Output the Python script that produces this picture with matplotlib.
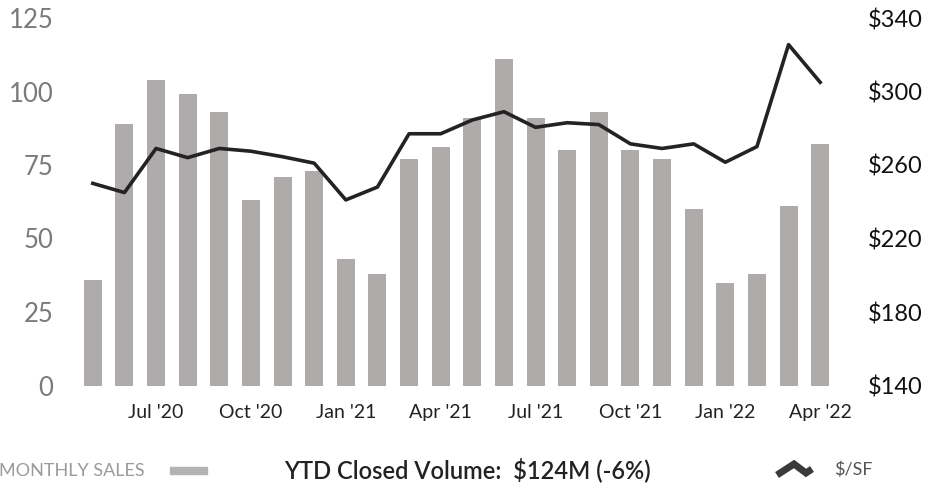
import matplotlib.pyplot as plt
from matplotlib.patches import Rectangle
from matplotlib.lines import Line2D

plt.rcParams['font.family'] = ['Lato', 'DejaVu Sans']

# monthly data, May 2020 .. Apr 2022
months = ['May 20', 'Jun 20', "Jul '20", 'Aug 20', 'Sep 20', "Oct '20", 'Nov 20', 'Dec 20',
          "Jan '21", 'Feb 21', 'Mar 21', "Apr '21", 'May 21', 'Jun 21', "Jul '21", 'Aug 21',
          'Sep 21', "Oct '21", 'Nov 21', 'Dec 21', "Jan '22", 'Feb 22', 'Mar 22', "Apr '22"]
monthly_sales = [36, 89, 104, 99, 93, 63, 71, 73, 43, 38, 77, 81,
                 91, 111, 91, 80, 93, 80, 77, 60, 35, 38, 61, 82]
price_sf = [250, 245, 269, 264, 269, 267.5, 264.5, 261, 241, 248, 277, 277,
            284.5, 289, 280.5, 283, 282, 271.5, 269, 271.5, 261.5, 270, 325.5, 305]
shown_ticks = [2, 5, 8, 11, 14, 17, 20, 23]

bar_color = '#afabaa'
line_color = '#232323'

fig = plt.figure(figsize=(9.39, 4.86), dpi=100)
ax = fig.add_axes([77 / 939, 100.5 / 486, (836 - 77) / 939, (468 - 100.5) / 486])
x = list(range(len(months)))
ax.bar(x, monthly_sales, width=0.57, color=bar_color, zorder=1)
ax.set_ylim(0, 125)
ax.set_xlim(-0.5, len(months) - 0.5)
ax.set_yticks([0, 25, 50, 75, 100, 125])
ax.tick_params(axis='y', length=0, labelsize=18.5, labelcolor='#7a7a7a', pad=17)
ax.set_xticks([x[i] for i in shown_ticks])
ax.set_xticklabels([months[i] for i in shown_ticks])
ax.tick_params(axis='x', length=0, labelsize=14, labelcolor='#222222', pad=13)

ax2 = ax.twinx()
ax2.plot(x, price_sf, color=line_color, linewidth=2.6, zorder=3)
ax2.set_ylim(140, 340)
ax2.set_yticks([140, 180, 220, 260, 300, 340])
ax2.set_yticklabels(['$' + str(v) for v in [140, 180, 220, 260, 300, 340]])
ax2.tick_params(axis='y', length=0, labelsize=17, labelcolor='#111111', pad=23)

for a in (ax, ax2):
    for s in a.spines.values():
        s.set_visible(False)

# legend row
fig.text(-1 / 939, 1 - 471 / 486, 'MONTHLY SALES', fontsize=13, color='#9a9a9a',
         va='center', ha='left')
fig.patches.append(Rectangle((170 / 939, 1 - 474 / 486), 37 / 939, 7 / 486,
                             transform=fig.transFigure, color='#b3b3b3'))
fig.text(284 / 939, 1 - 470 / 486, 'YTD Closed Volume:  $124M (-6%)', fontsize=17,
         color='#222222', va='center', ha='left', fontweight='semibold')
icon_x = [777, 794, 806, 812]
icon_y = [475, 464, 473, 469]
fig.lines.append(Line2D([v / 939 for v in icon_x], [1 - v / 486 for v in icon_y],
                        transform=fig.transFigure, color='#3a3a3a', linewidth=5,
                        solid_joinstyle='miter', solid_capstyle='butt'))
fig.text(834 / 939, 1 - 470 / 486, '$/SF', fontsize=13, color='#555555',
         va='center', ha='left')

fig.savefig('out.png', dpi=100)
